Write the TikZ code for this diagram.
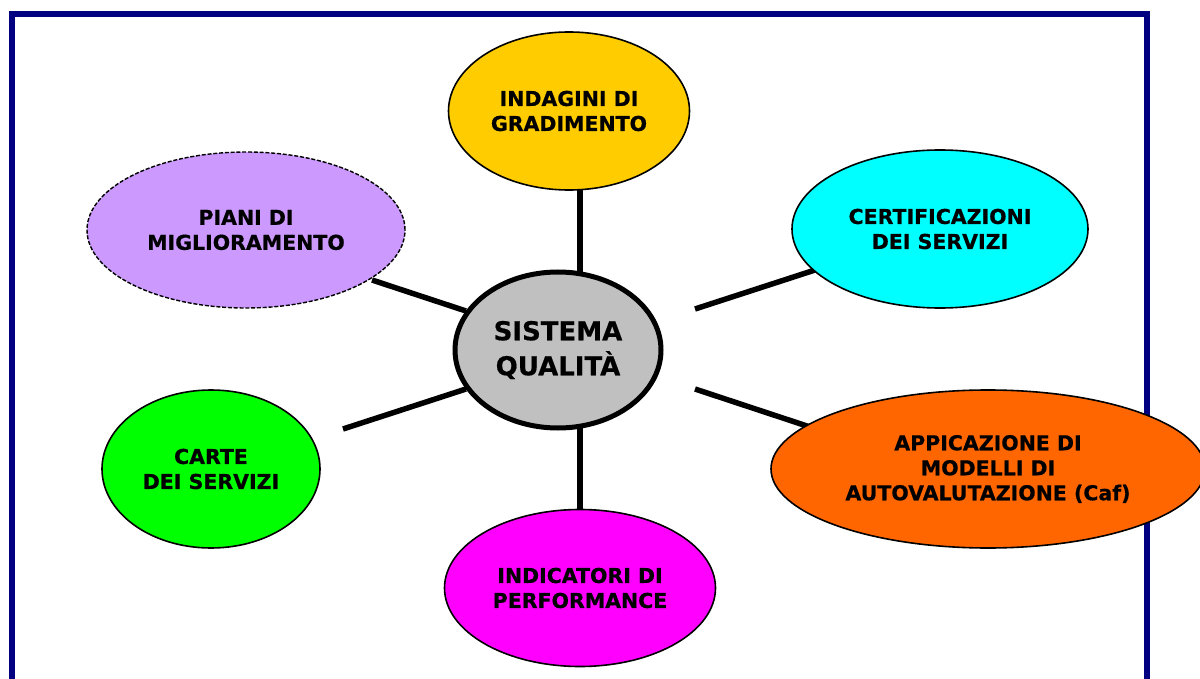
\documentclass[tikz,border=0pt]{standalone}
\usepackage{fontspec}
\setmainfont{DejaVu Sans}[BoldFeatures={FakeBold=0.6}]
\usetikzlibrary{shapes.geometric}
\definecolor{framecol}{RGB}{0,0,128}
\definecolor{cyel}{RGB}{255,204,0}
\definecolor{cpur}{RGB}{204,153,255}
\definecolor{ccya}{RGB}{0,255,255}
\definecolor{cora}{RGB}{255,102,0}
\definecolor{cgre}{RGB}{0,255,0}
\definecolor{cmag}{RGB}{255,0,255}
\definecolor{cgra}{RGB}{192,192,192}
\tikzset{
  bubble/.style={ellipse, draw=black, line width=1.6pt, inner sep=0pt, align=center,
    text=black, font=\bfseries\fontsize{20.5}{25}\selectfont},
  hub/.style={ellipse, draw=black, line width=5pt, fill=cgra, inner sep=0pt, align=center,
    font=\bfseries\fontsize{26}{35}\selectfont},
  spoke/.style={draw=black, line width=5.5pt},
  frameline/.style={draw=framecol, line width=6pt}
}
\begin{document}
\begin{tikzpicture}[x=1pt,y=-1pt]
\useasboundingbox (0,0) rectangle (1200,679);
\fill[white] (0,0) rectangle (1200,679);
\draw[frameline] (12,720) -- (12,14) -- (1147,14) -- (1147,720);

% spoke end points
\coordinate (t1) at (580,190);
\coordinate (t2) at (580,275);
\coordinate (b1) at (580,425);
\coordinate (b2) at (580,512);
\coordinate (lu1) at (372,280);
\coordinate (lu2) at (466,311);
\coordinate (ll1) at (343,429);
\coordinate (ll2) at (466,389);
\coordinate (ru1) at (695,309);
\coordinate (ru2) at (815,270);
\coordinate (rl1) at (695,389);
\coordinate (rl2) at (810,427);

\draw[spoke] (t1) -- (t2);
\draw[spoke] (b1) -- (b2);
\draw[spoke] (lu1) -- (lu2);
\draw[spoke] (ll1) -- (ll2);
\draw[spoke] (ru1) -- (ru2);
\draw[spoke] (rl1) -- (rl2);

\node[bubble, fill=cyel, minimum width=241pt, minimum height=158pt] (ind) at (569,111) {INDAGINI DI\\GRADIMENTO};
\node[bubble, fill=cpur, minimum width=318pt, minimum height=156pt, line width=1.4pt, dash pattern=on 4pt off 1.8pt] (pia) at (246,230) {PIANI DI\\MIGLIORAMENTO};
\node[bubble, fill=ccya, minimum width=296pt, minimum height=158pt] (cer) at (940,229) {CERTIFICAZIONI\\DEI SERVIZI};
\node[bubble, fill=cora, minimum width=434pt, minimum height=158pt] (app) at (988,469) {APPICAZIONE DI\\MODELLI DI\\AUTOVALUTAZIONE (Caf)};
\node[bubble, fill=cgre, minimum width=218pt, minimum height=158pt] (car) at (211,469) {CARTE\\DEI SERVIZI};
\node[bubble, fill=cmag, minimum width=271pt, minimum height=157pt] (ic) at (580,588) {INDICATORI DI\\PERFORMANCE};
\node[hub, minimum width=206pt, minimum height=156pt] (sq) at (558,350) {SISTEMA\\QUALITÀ};
\end{tikzpicture}
\end{document}
